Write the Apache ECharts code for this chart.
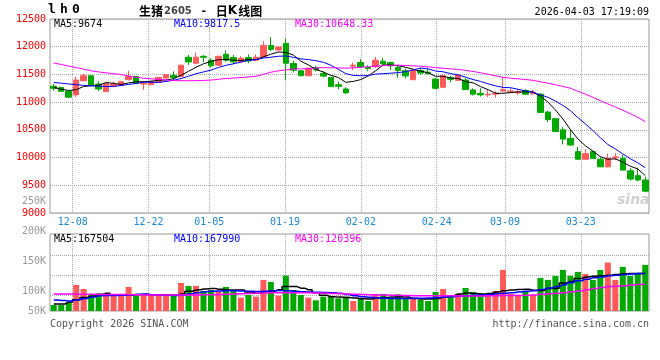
<!DOCTYPE html>
<html><head><meta charset="utf-8">
<script src="https://cdn.jsdelivr.net/npm/echarts@6/dist/echarts.min.js"></script>
<style>html,body{margin:0;padding:0;background:#fff}#c{width:660px;height:360px}</style>
</head><body><div id="c"></div>
<script>
// ---------- data ----------
const dates = ['12-03','12-04','12-05','12-08','12-09','12-10','12-11','12-12','12-15','12-16','12-17','12-18','12-19','12-22','12-23','12-24','12-25','12-26','12-29','12-30','12-31',
'01-05','01-06','01-07','01-08','01-09','01-12','01-13','01-14','01-15','01-16','01-19','01-20','01-21','01-22','01-23','01-26','01-27','01-28','01-29','01-30',
'02-02','02-03','02-04','02-05','02-06','02-09','02-10','02-11','02-12','02-13','02-24','02-25','02-26','02-27',
'03-02','03-03','03-04','03-05','03-06','03-09','03-10','03-11','03-12','03-13','03-16','03-17','03-18','03-19','03-20','03-23','03-24','03-25','03-26','03-27','03-30','03-31',
'04-01','04-02','04-03'];
const dateTicks = ['12-08','12-22','01-05','01-19','02-02','02-24','03-09','03-23'];

const opens = [11286,11262,11196,11131,11387,11476,11327,11190,11286,11298,
11405,11464,11327,11315,11357,11435,11482,11464,11810,11702,
11827,11756,11667,11863,11804,11732,11804,11756,11815,12024,
11940,12060,11696,11565,11476,11625,11518,11446,11315,11238,
11649,11714,11625,11637,11738,11714,11625,11565,11405,11572,
11540,11417,11268,11440,11393,11399,11220,11161,11131,11143,
11200,11185,11167,11208,11150,11143,10821,10702,10500,10345,
10107,9970,10107,9970,9833,9994,9988,9762,9673,9595];
const closes = [11250,11196,11089,11399,11476,11315,11238,11339,11327,11369,
11464,11339,11345,11375,11446,11494,11446,11667,11726,11810,
11810,11655,11827,11756,11726,11792,11744,11810,12024,11952,
11994,11702,11577,11476,11613,11583,11470,11280,11286,11167,
11667,11637,11607,11756,11690,11655,11571,11473,11571,11524,
11515,11250,11476,11411,11488,11226,11143,11131,11143,11160,
11225,11202,11190,11143,11180,10815,10685,10470,10333,10226,
9970,10071,9982,9833,9988,10012,9774,9613,9595,9393];
const lows = [11208,11185,11085,11089,11375,11310,11196,11185,11268,11290,
11387,11330,11220,11310,11350,11430,11405,11460,11673,11685,
11720,11625,11660,11732,11685,11714,11702,11744,11804,11923,
11935,11399,11536,11470,11470,11554,11446,11275,11232,11149,
11577,11619,11565,11619,11667,11577,11440,11429,11399,11500,
11500,11232,11256,11357,11381,11220,11119,11101,11090,11083,
11190,11160,11131,11131,11131,10804,10637,10458,10238,10208,
9970,9970,9982,9833,9821,9952,9774,9583,9571,9375];
const highs = [11327,11280,11200,11458,11506,11480,11375,11345,11375,11380,
11565,11470,11387,11380,11452,11500,11554,11673,11851,11893,
11851,11792,11835,11935,11851,11827,11863,11863,12101,12173,
12000,12149,11744,11570,11620,11649,11554,11450,11369,11268,
11714,11774,11667,11815,11797,11726,11667,11607,11607,11619,
11607,11429,11500,11476,11500,11429,11250,11250,11220,11202,
11450,11250,11220,11232,11220,11160,10845,10714,10548,10506,
10190,10149,10131,10000,10071,10083,10048,9810,9821,9655];

const ma5 = [11265,11235,11210,11225,11282,11295,11303,11353,11339,11318,11347,11368,11369,11378,11394,11400,11421,11486,11556,11629,
11692,11734,11766,11772,11755,11751,11769,11766,11819,11864,11905,11896,11850,11740,11672,11590,11544,11484,11446,11357,
11374,11407,11473,11567,11671,11669,11656,11629,11592,11559,11531,11467,11467,11435,11428,11370,11349,11280,11226,11161,
11160,11172,11184,11184,11188,11106,11003,10859,10697,10506,10337,10214,10116,10016,9969,9977,9918,9844,9796,9674];
const ma10 = [11355,11342,11328,11315,11303,11295,11288,11282,11285,11300,11321,11336,11361,11359,11356,11374,11394,11427,11467,11511,
11546,11577,11626,11664,11692,11722,11751,11766,11795,11810,11828,11833,11808,11780,11768,11748,11720,11667,11593,11515,
11482,11476,11479,11507,11514,11522,11532,11551,11579,11615,11600,11561,11548,11514,11493,11451,11408,11374,11331,11294,
11265,11261,11232,11205,11174,11133,11087,11021,10940,10847,10721,10608,10488,10357,10237,10157,10066,9980,9906,9817.5];
const ma30 = [11705,11680,11650,11625,11595,11565,11545,11528,11513,11500,11470,11448,11432,11420,11411,11400,11390,11387,11387,11387,
11392,11398,11412,11426,11436,11444,11455,11468,11500,11540,11565,11582,11598,11601,11605,11614,11622,11620,11619,11612,
11619,11629,11637,11650,11658,11664,11668,11661,11656,11647,11637,11623,11611,11600,11592,11573,11553,11531,11501,11475,
11449,11432,11420,11408,11394,11368,11342,11315,11283,11252,11196,11143,11089,11025,10968,10914,10854,10792,10726,10648.33];

const volumes = [26900,26900,38800,116500,98500,71700,79100,79100,71700,68700,
107500,68700,74700,71700,68700,68700,68700,125400,112000,112000,
89600,94000,86600,107500,91000,59700,71700,64200,138800,129900,
68700,158300,94000,71700,59700,47800,64200,67200,56700,64200,
44800,53700,44800,76100,76100,56700,74700,56700,56700,49300,
44800,85100,98500,64200,76100,103000,85100,80600,68700,89600,
183600,76100,71700,89600,71700,147800,138800,156800,183600,156800,
174700,165700,138800,183600,216500,138800,197100,156800,170200,206000];
const volMa5 = [31400,31400,40000,50000,60000,66000,74000,79000,70000,70000,72000,74000,74000,73000,72000,72000,72000,76000,88000,94000,
98000,101000,97000,94000,94000,94000,85000,79000,86000,88000,95000,109000,109000,102000,95000,82000,70000,64000,62000,60000,
58000,55000,54000,58000,60000,62000,64000,62000,56000,54000,54000,56000,62000,68000,76000,80000,78000,75000,78000,85000,
91000,94000,96000,97000,93000,92000,100000,102000,125000,132000,145000,152000,155000,158000,160000,163000,166000,168000,168000,167504];
const volMa10 = [49000,47000,45000,50000,56000,62000,68000,69000,69000,70000,72000,74000,76000,73000,71000,70000,69000,72000,77000,82000,
86000,88000,89000,90000,90000,89000,88000,87000,88000,90000,92000,91000,88000,86000,85000,84000,83000,81000,79000,74000,
68000,64000,61000,59000,57000,56000,56000,56000,57000,57000,58000,60000,62000,64000,66000,68000,70000,72000,74000,77000,
79000,82000,85000,88000,91000,96000,103000,109000,117000,126000,135000,142000,148000,152000,157000,160000,163000,165000,167000,167990];
const volMa30 = [76000,76000,75500,75000,75000,74500,74000,74000,74000,73500,73000,72500,72000,72000,71500,71000,71000,71000,71500,72000,
72500,73000,74000,75000,76000,77000,78000,79000,80000,81000,82000,82000,82000,81500,81000,80000,79000,78000,77000,76000,
75000,74000,73000,72000,71000,70000,69500,69000,68500,68500,68500,68500,68000,68000,67500,67000,67000,67500,68000,68500,
69000,69000,69000,70000,72000,75000,77000,79000,82000,86000,90000,95000,100000,105000,109000,111000,113000,116000,118000,120396];

const priceMin = 9000, priceMax = 12500, priceStep = 500;
const volMax = 344000;
const volGridValues = [70000, 160000, 247000];
const volTickValues = [50000, 100000, 150000, 200000, 250000];
const volTickLabels = ['50K', '100K', '150K', '200K', '250K'];
const volLabelFloor = 66600; // Sina clamps the lowest volume label to the panel bottom

const titleCode = 'lh0';
const titleParts = ['生猪', '2605', ' - ', '日', 'K', '线图'];
const timeStamp = '2026-04-03 17:19:09';
const priceLegend = ['MA5:9674', 'MA10:9817.5', 'MA30:10648.33'];
const volLegend = ['MA5:167504', 'MA10:167990', 'MA30:120396'];
const copyright = 'Copyright 2026 SINA.COM';
const siteUrl = 'http://finance.sina.com.cn';

// ---------- styles ----------
const UP = '#ff5a5a', DOWN = '#00a800';
const MONO = 'DejaVu Sans Mono';
const CJK = 'Noto Sans CJK SC';
const gridLine = { show: true, lineStyle: { type: 'dotted', color: '#aaa', width: 1 } };
const tickIdx = dateTicks.map(d => dates.indexOf(d));
const isTick = (i) => tickIdx.indexOf(i) >= 0;

const chart = echarts.init(document.getElementById('c'), null, { renderer: 'canvas' });
const mono = (color, size) => ({ color: color, fontFamily: MONO, fontSize: size || 10, fontWeight: 'normal' });
const legendTitles = (arr, top) => arr.map((t, k) => ({
  text: t, left: [54, 174, 295][k], top: top, padding: 0,
  textStyle: Object.assign(mono(['#000', '#0000ff', '#ff00ff'][k]), { lineHeight: 12 })
}));

chart.setOption({
  animation: false,
  backgroundColor: '#fff',
  title: [
    { text: titleCode.split('').map(ch => '{a|' + ch + '}').join(''), left: 48, top: 3, padding: 0,
      textStyle: { rich: { a: { width: 12, fontFamily: MONO, fontWeight: 'bold', fontSize: 13, color: '#000', lineHeight: 14 } } } },
    { text: '{a|' + titleParts[0] + '}{b|' + titleParts[1] + '}{c|' + titleParts[2] + '}{a|' + titleParts[3] + '}{k|' + titleParts[4] + '}{a|' + titleParts[5] + '}',
      left: 139, top: 4, padding: 0,
      textStyle: { rich: {
        a: { fontFamily: CJK, fontSize: 12, color: '#000', lineHeight: 14 },
        b: { fontFamily: 'DejaVu Sans', fontSize: 10, color: '#444', lineHeight: 14, padding: [0, 0, 0, 1] },
        c: { fontFamily: MONO, fontSize: 11, color: '#000', lineHeight: 14, width: 24, align: 'center' },
        k: { fontFamily: 'DejaVu Sans', fontWeight: 'bold', fontSize: 12, color: '#000', lineHeight: 14, padding: [0, 1, 0, 0] } } } },
    { text: timeStamp, right: 11, top: 6, padding: 0, textStyle: Object.assign(mono('#000', 10), { lineHeight: 12 }) },
    ...legendTitles(priceLegend, 18),
    ...legendTitles(volLegend, 233),
    { text: copyright, left: 50, top: 318, padding: 0, textStyle: Object.assign(mono('#555', 10), { lineHeight: 12 }) },
    { text: siteUrl, right: 11, top: 318, padding: 0, textStyle: Object.assign(mono('#555', 10), { lineHeight: 12 }) },
    { text: 'sina', left: 617, top: 193, padding: 0,
      textStyle: { fontFamily: 'DejaVu Sans', fontStyle: 'italic', fontWeight: 'bold', fontSize: 14, color: 'rgba(150,150,150,0.45)' } }
  ],
  grid: [
    { left: 50, top: 19, width: 599, height: 194, show: true, borderColor: '#999', borderWidth: 1, backgroundColor: 'transparent', containLabel: false, outerBoundsMode: 'none' },
    { left: 50, top: 234, width: 599, height: 77, show: true, borderColor: '#999', borderWidth: 1, backgroundColor: 'transparent', containLabel: false, outerBoundsMode: 'none' },
    { left: 50, top: 201, width: 599, height: 110, show: false, containLabel: false, outerBoundsMode: 'none' }
  ],
  xAxis: [
    { type: 'category', gridIndex: 0, data: dates, boundaryGap: true, position: 'top', show: false },
    { type: 'category', gridIndex: 1, data: dates, boundaryGap: true, position: 'top', show: false },
    { type: 'category', gridIndex: 0, data: dates, boundaryGap: false, position: 'bottom',
      axisLine: { show: false }, axisTick: { show: false },
      axisLabel: { interval: (i) => isTick(i), color: '#1a8ad6', fontFamily: MONO, fontSize: 10, margin: 4 },
      splitLine: Object.assign({ interval: (i) => isTick(i) }, gridLine) },
    { type: 'category', gridIndex: 1, data: dates, boundaryGap: false, position: 'bottom',
      axisLine: { show: false }, axisTick: { show: false }, axisLabel: { show: false },
      splitLine: Object.assign({ interval: (i) => isTick(i) }, gridLine) },
    { type: 'value', gridIndex: 2, min: 0, max: 1, show: false }
  ],
  yAxis: [
    { type: 'value', gridIndex: 0, min: priceMin, max: priceMax, interval: priceStep,
      axisLine: { show: false }, axisTick: { show: false },
      axisLabel: { color: '#ff0000', fontFamily: MONO, fontSize: 10, margin: 4, formatter: (v) => String(v) },
      splitLine: gridLine },
    { type: 'value', gridIndex: 1, min: 0, max: volMax,
      axisLine: { show: false }, axisTick: { show: false, customValues: volGridValues }, axisLabel: { show: false },
      splitLine: gridLine },
    { type: 'value', gridIndex: 2, min: volLabelFloor, max: volTickValues[volTickValues.length - 1],
      axisLine: { show: false }, axisTick: { show: false }, splitLine: { show: false },
      axisLabel: { color: '#999', fontFamily: MONO, fontSize: 10, margin: 4,
        customValues: volTickValues.map(v => Math.max(v, volLabelFloor)),
        formatter: (v) => volTickLabels[volTickValues.indexOf(v)] || volTickLabels[0] } }
  ],
  series: [
    { type: 'candlestick', xAxisIndex: 0, yAxisIndex: 0, barWidth: 6,
      data: dates.map((d, i) => [opens[i], closes[i], lows[i], highs[i]]),
      itemStyle: { color: UP, color0: DOWN, borderColor: UP, borderColor0: DOWN, borderWidth: 1 } },
    { type: 'line', xAxisIndex: 0, yAxisIndex: 0, data: ma5, showSymbol: false, silent: true, lineStyle: { color: '#000', width: 1 } },
    { type: 'line', xAxisIndex: 0, yAxisIndex: 0, data: ma10, showSymbol: false, silent: true, lineStyle: { color: '#0000ff', width: 1 } },
    { type: 'line', xAxisIndex: 0, yAxisIndex: 0, data: ma30, showSymbol: false, silent: true, lineStyle: { color: '#ff00ff', width: 1 } },
    { type: 'bar', xAxisIndex: 1, yAxisIndex: 1, barWidth: 6,
      data: volumes.map((v, i) => ({ value: v, itemStyle: { color: closes[i] >= opens[i] ? UP : DOWN } })) },
    { type: 'line', xAxisIndex: 1, yAxisIndex: 1, data: volMa5, step: 'middle', showSymbol: false, silent: true, lineStyle: { color: '#000', width: 1.5 } },
    { type: 'line', xAxisIndex: 1, yAxisIndex: 1, data: volMa10, step: 'middle', showSymbol: false, silent: true, lineStyle: { color: '#0000ff', width: 1.5 } },
    { type: 'line', xAxisIndex: 1, yAxisIndex: 1, data: volMa30, step: 'middle', showSymbol: false, silent: true, lineStyle: { color: '#ff00ff', width: 1.5 } }
  ]
});
</script></body></html>
